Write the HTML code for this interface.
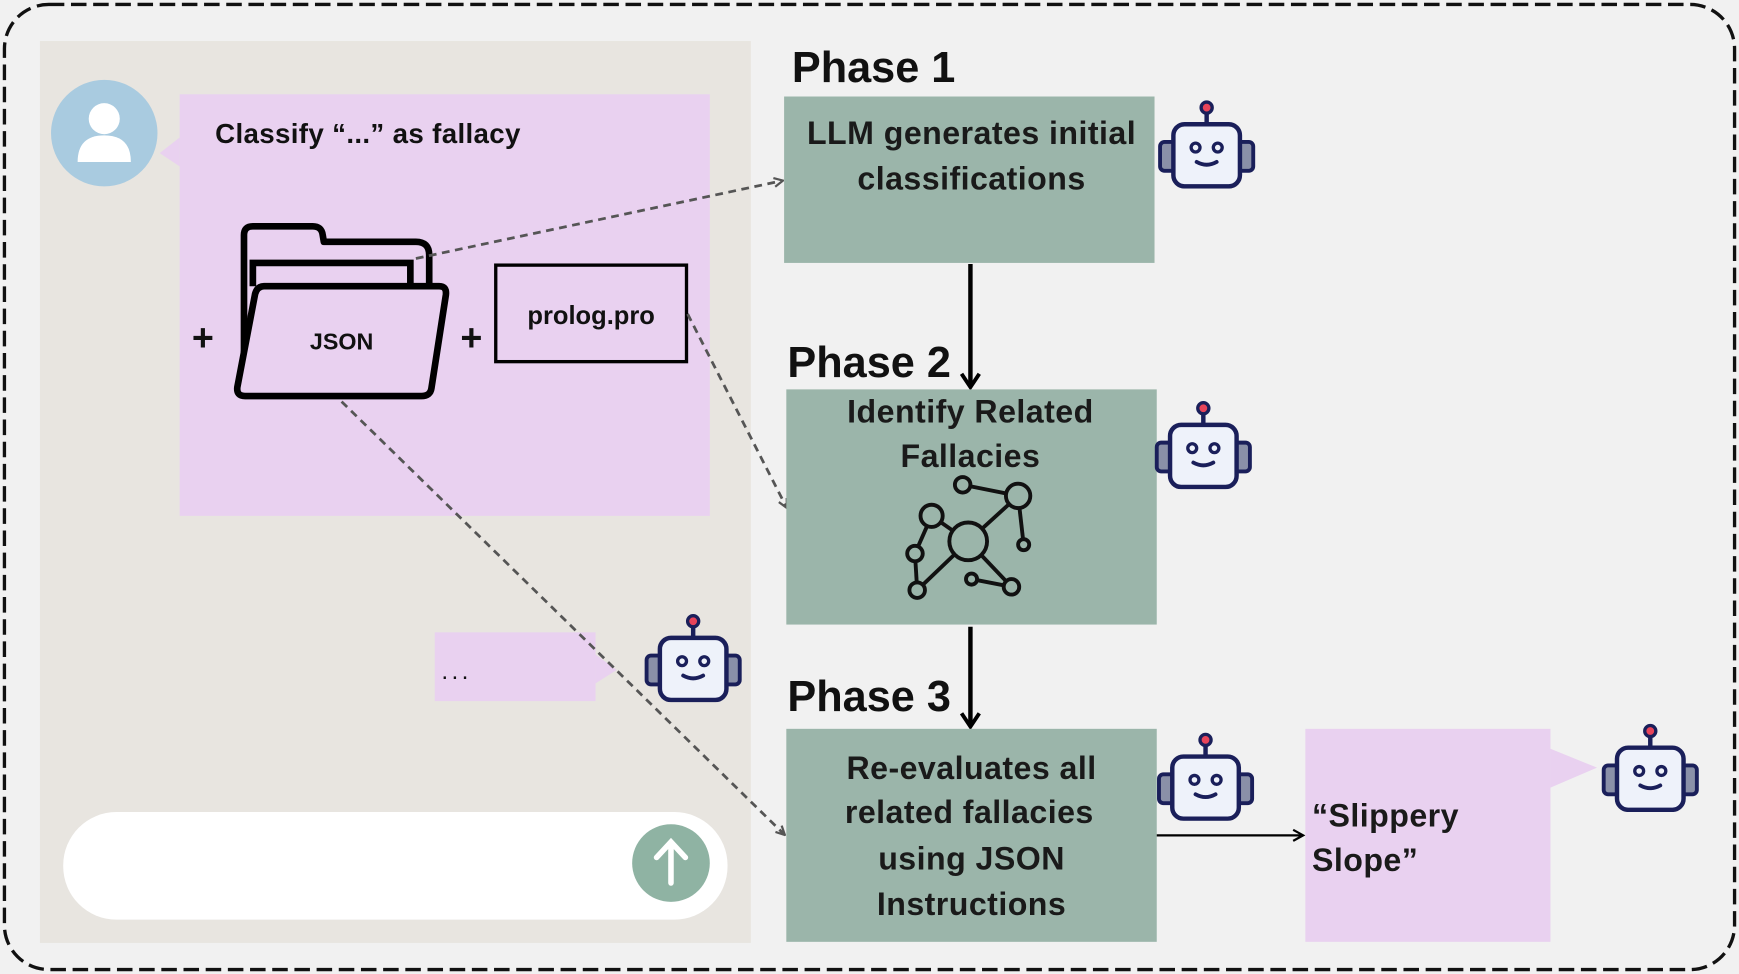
<!DOCTYPE html>
<html><head><meta charset="utf-8"><style>
html,body{margin:0;padding:0;background:#f1f1f1;}
svg{display:block}
text{font-family:"Liberation Sans","DejaVu Sans",sans-serif;}
</style></head><body>
<svg width="1739" height="974" viewBox="0 0 1568 878" preserveAspectRatio="none" xmlns="http://www.w3.org/2000/svg">
<defs>
<symbol id="bot" viewBox="0 0 90 80">
<line x1="45" y1="8" x2="45" y2="22" stroke="#1a1f5a" stroke-width="4"/>
<circle cx="45" cy="7" r="5" fill="#e8445a" stroke="#1a1f5a" stroke-width="3"/>
<rect x="3" y="38" width="14" height="26" rx="4" fill="#8a90a8" stroke="#1a1f5a" stroke-width="3.5"/>
<rect x="73" y="38" width="14" height="26" rx="4" fill="#8a90a8" stroke="#1a1f5a" stroke-width="3.5"/>
<rect x="15" y="22" width="60" height="56" rx="10" fill="#eef2fa" stroke="#1a1f5a" stroke-width="4"/>
<circle cx="35" cy="43" r="4" fill="#eef2fa" stroke="#1a1f5a" stroke-width="3"/>
<circle cx="55" cy="43" r="4" fill="#eef2fa" stroke="#1a1f5a" stroke-width="3"/>
<path d="M36 56 Q45 61 54 56" fill="none" stroke="#1a1f5a" stroke-width="3.5" stroke-linecap="round"/>
</symbol>
<marker id="ah" markerWidth="10" markerHeight="10" refX="8" refY="5" orient="auto" markerUnits="userSpaceOnUse"><path d="M1 1 L9 5 L1 9" fill="none" stroke="#555" stroke-width="2"/></marker>
<marker id="bh" markerWidth="20" markerHeight="20" refX="14" refY="10" orient="auto" markerUnits="userSpaceOnUse"><path d="M3 2 L15 10 L3 18" fill="none" stroke="#000" stroke-width="3.5"/></marker>
<marker id="sh" markerWidth="12" markerHeight="12" refX="10" refY="6" orient="auto" markerUnits="userSpaceOnUse"><path d="M1 1 L10 6 L1 11" fill="none" stroke="#000" stroke-width="2"/></marker>
</defs>
<rect x="0" y="0" width="1568" height="878" fill="#f1f1f1"/>
<rect x="4" y="4" width="1560" height="870" rx="40" fill="#f1f1f1" stroke="#111" stroke-width="3" stroke-dasharray="14 6"/>
<rect x="36" y="37" width="641" height="813" fill="#e8e5e0"/>
<circle cx="94" cy="120" r="48" fill="#a9cbe0"/>
<circle cx="94" cy="107" r="14" fill="#fff"/>
<path d="M70 146 Q70 122 94 122 Q118 122 118 146 Z" fill="#fff"/>
<rect x="162" y="85" width="478" height="380" fill="#e9d1f0"/>
<path d="M162 124 L144 138 L162 150 Z" fill="#e9d1f0"/>
<text x="194" y="129" font-size="25" font-weight="bold" fill="#111" letter-spacing="0.3">Classify “...” as fallacy</text>
<!-- folder -->
<path d="M220 357 L220 212 Q220 204 228 204 L282 204 Q290 204 291 212 L292 218 L375 218 Q387 218 387 230 L387 258" fill="none" stroke="#000" stroke-width="6" stroke-linejoin="round"/>
<path d="M228 258 L228 237 L370 237 L370 258" fill="none" stroke="#000" stroke-width="6"/>
<path d="M238 258 L396 258 Q403 258 402 266 L389 350 Q388 357 380 357 L221 357 Q213 357 214 349 L230 265 Q232 258 238 258 Z" fill="#e9d1f0" stroke="#000" stroke-width="6" stroke-linejoin="round"/>
<text x="308" y="315" font-size="21" font-weight="bold" text-anchor="middle" fill="#111">JSON</text>
<text x="183" y="316" font-size="34" font-weight="bold" text-anchor="middle" fill="#111">+</text>
<text x="425" y="316" font-size="34" font-weight="bold" text-anchor="middle" fill="#111">+</text>
<rect x="447" y="239" width="172" height="87" fill="#e9d1f0" stroke="#000" stroke-width="3"/>
<text x="533" y="292" font-size="23" font-weight="bold" text-anchor="middle" fill="#111">prolog.pro</text>
<rect x="392" y="570" width="145" height="62" fill="#e9d1f0"/>
<path d="M537 590 L556 604 L537 616 Z" fill="#e9d1f0"/>
<text x="398" y="612" font-size="22" fill="#111" letter-spacing="3">...</text>
<use href="#bot" x="580" y="553" width="90" height="80"/>
<rect x="57" y="732" width="599" height="97" rx="48" fill="#fff"/>
<circle cx="605" cy="778" r="35" fill="#8fb3a3"/>
<path d="M605 796 L605 760 M592 773 L605 759 L618 773" fill="none" stroke="#fff" stroke-width="5" stroke-linecap="round"/>
<!-- dashed connectors -->
<path d="M375 233 L705 163" stroke="#555" stroke-width="2.5" stroke-dasharray="7 5" fill="none" marker-end="url(#ah)"/>
<path d="M620 283 L709 457" stroke="#555" stroke-width="2.5" stroke-dasharray="7 5" fill="none" marker-end="url(#ah)"/>
<path d="M308 362 L707 752" stroke="#555" stroke-width="2.5" stroke-dasharray="7 5" fill="none" marker-end="url(#ah)"/>
<!-- phases -->
<text x="714" y="74" font-size="39" font-weight="bold" fill="#111">Phase 1</text>
<rect x="707" y="87" width="334" height="150" fill="#9bb5aa"/>
<text font-size="29" font-weight="bold" text-anchor="middle" fill="#1a1a1a" letter-spacing="0.4"><tspan x="876" y="130">LLM generates initial</tspan><tspan x="876" y="171">classifications</tspan></text>
<use href="#bot" x="1043" y="90" width="90" height="80"/>
<path d="M875 238 L875 348" stroke="#000" stroke-width="4" marker-end="url(#bh)"/>
<text x="710" y="340" font-size="39" font-weight="bold" fill="#111">Phase 2</text>
<rect x="709" y="351" width="334" height="212" fill="#9bb5aa"/>
<text font-size="29" font-weight="bold" text-anchor="middle" fill="#1a1a1a" letter-spacing="0.4"><tspan x="875" y="381">Identify Related</tspan><tspan x="875" y="421">Fallacies</tspan></text>
<g stroke="#111" stroke-width="3.5" fill="none">
<line x1="868" y1="437" x2="918" y2="447"/><line x1="918" y1="447" x2="873" y2="488"/><line x1="918" y1="447" x2="923" y2="491"/>
<line x1="840" y1="465" x2="873" y2="488"/><line x1="840" y1="465" x2="825" y2="499"/><line x1="873" y1="488" x2="827" y2="532"/>
<line x1="873" y1="488" x2="912" y2="529"/><line x1="876" y1="522" x2="912" y2="529"/><line x1="825" y1="499" x2="827" y2="532"/>
<circle cx="868" cy="437" r="7" fill="#9bb5aa"/><circle cx="918" cy="447" r="11" fill="#9bb5aa"/><circle cx="840" cy="465" r="10" fill="#9bb5aa"/>
<circle cx="873" cy="488" r="17" fill="#9bb5aa"/><circle cx="923" cy="491" r="5" fill="#9bb5aa"/><circle cx="825" cy="499" r="7" fill="#9bb5aa"/>
<circle cx="827" cy="532" r="7" fill="#9bb5aa"/><circle cx="876" cy="522" r="5" fill="#9bb5aa"/><circle cx="912" cy="529" r="7" fill="#9bb5aa"/>
</g>
<use href="#bot" x="1040" y="361" width="90" height="80"/>
<path d="M875 565 L875 654" stroke="#000" stroke-width="4" marker-end="url(#bh)"/>
<text x="710" y="641" font-size="39" font-weight="bold" fill="#111">Phase 3</text>
<rect x="709" y="657" width="334" height="192" fill="#9bb5aa"/>
<text font-size="29" font-weight="bold" text-anchor="middle" fill="#1a1a1a" letter-spacing="0.4"><tspan x="876" y="702">Re-evaluates all</tspan><tspan x="874" y="742">related fallacies</tspan><tspan x="876" y="784">using JSON</tspan><tspan x="876" y="825">Instructions</tspan></text>
<use href="#bot" x="1042" y="660" width="90" height="80"/>
<path d="M1043 753 L1175 753" stroke="#000" stroke-width="2" marker-end="url(#sh)"/>
<rect x="1177" y="657" width="221" height="192" fill="#e9d1f0"/>
<path d="M1398 675 L1440 692 L1398 710 Z" fill="#e9d1f0"/>
<text font-size="29" font-weight="bold" fill="#1a1a1a" letter-spacing="0.4"><tspan x="1183" y="745">“Slippery</tspan><tspan x="1183" y="785">Slope”</tspan></text>
<use href="#bot" x="1443" y="652" width="90" height="80"/>
</svg>
</body></html>
